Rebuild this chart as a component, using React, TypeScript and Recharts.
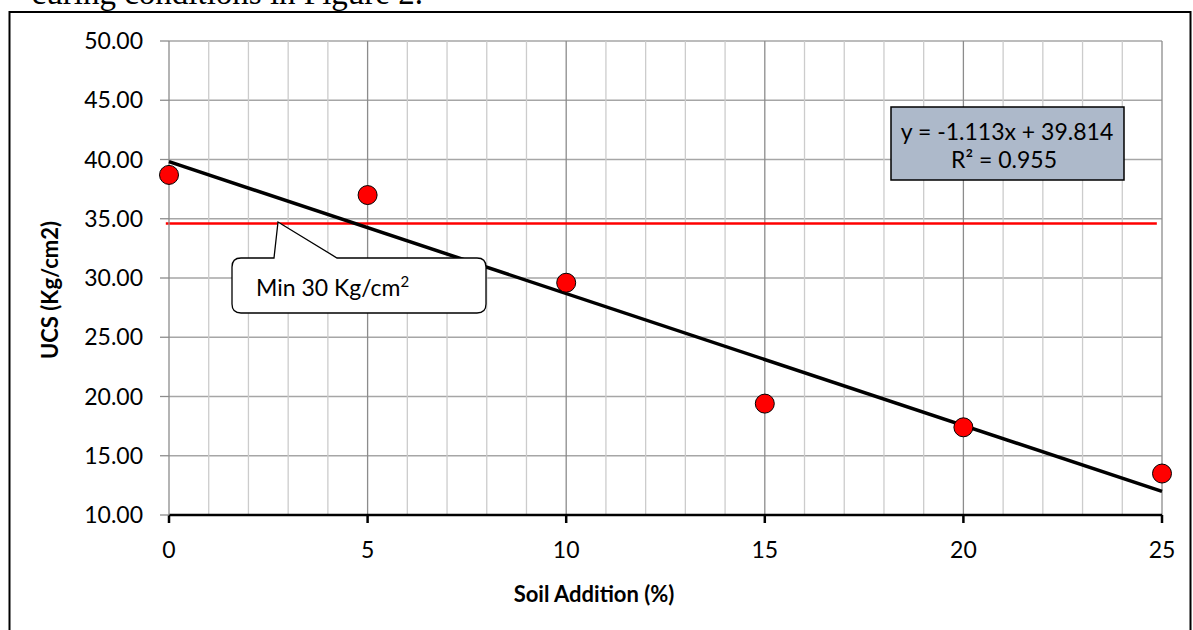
import React from 'react';
import { ComposedChart, Scatter, XAxis, YAxis, CartesianGrid, ReferenceLine } from 'recharts';

// ---- data ----
const soilAddition = [0, 5, 10, 15, 20, 25];
const ucs = [38.7, 37.0, 29.6, 19.4, 17.4, 13.5];
const xTicks = [0, 5, 10, 15, 20, 25];
const yTicks = [10, 15, 20, 25, 30, 35, 40, 45, 50];
const minorX = [1, 2, 3, 4, 6, 7, 8, 9, 11, 12, 13, 14, 16, 17, 18, 19, 21, 22, 23, 24];
const majorX = [5, 10, 15, 20, 25];
const trendX = [0, 25];
const trendY = [39.814, 11.99];
const minLineY = 34.6;
const minLineX = [-0.08, 24.87];
const equationText = 'y = -1.113x + 39.814';
const r2Text = 'R² = 0.955';
const calloutText = 'Min 30 Kg/cm';
const xTitle = 'Soil Addition (%)';
const yTitle = 'UCS (Kg/cm2)';
const captionText = 'curing conditions in Figure 2.';

const points = soilAddition.map((x, i) => ({ x, y: ucs[i] }));
const trendPoints = trendX.map((x, i) => ({ x, y: trendY[i] }));

const FONT = 'Lato, Carlito, Calibri, sans-serif';

const Dot = (props: any) => (
  <circle cx={props.cx} cy={props.cy} r={9.5} fill="#ff0000" stroke="#000" strokeWidth={1} />
);

export default function App() {
  return (
    <div style={{ position: 'absolute', left: 0, top: 0, width: 1193, height: 630, background: '#fff', overflow: 'hidden' }}>
      <ComposedChart
        width={1193}
        height={630}
        margin={{ top: 41, right: 31, bottom: 85, left: 89 }}
      >
        <CartesianGrid vertical={false} stroke="#a6a6a6" strokeWidth={1.3} />
        {minorX.map((v) => (
          <ReferenceLine key={'mi' + v} x={v} stroke="#cccccc" strokeWidth={1.3} />
        ))}
        {majorX.map((v) => (
          <ReferenceLine key={'ma' + v} x={v} stroke="#8c8c8c" strokeWidth={1.3} />
        ))}
        <XAxis
          type="number"
          dataKey="x"
          domain={[0, 25]}
          ticks={xTicks}
          height={30}
          tickSize={8}
          tickMargin={19}
          axisLine={{ stroke: '#000', strokeWidth: 2.5 }}
          tickLine={{ stroke: '#000', strokeWidth: 2.5 }}
          tick={{ fill: '#000', fontSize: 23, fontFamily: FONT }}
        />
        <YAxis
          type="number"
          dataKey="y"
          domain={[10, 50]}
          ticks={yTicks}
          width={80}
          tickSize={9}
          tickMargin={17}
          tickFormatter={(v: number) => v.toFixed(2)}
          axisLine={{ stroke: '#8c8c8c', strokeWidth: 1.3 }}
          tickLine={{ stroke: '#8c8c8c', strokeWidth: 1.3 }}
          tick={{ fill: '#000', fontSize: 23, fontFamily: FONT }}
        />
        <ReferenceLine
          segment={[{ x: minLineX[0], y: minLineY }, { x: minLineX[1], y: minLineY }]}
          stroke="#ff0000"
          strokeWidth={2.5}
          ifOverflow="visible"
        />
        <Scatter
          data={trendPoints}
          line={{ stroke: '#000', strokeWidth: 3.5 }}
          shape={() => <g />}
          isAnimationActive={false}
        />
        <Scatter data={points} shape={Dot} isAnimationActive={false} />
      </ComposedChart>
      <svg
        width={1193}
        height={630}
        style={{ position: 'absolute', left: 0, top: 0, pointerEvents: 'none' }}
      >
        <text x={423} y={4} textAnchor="end" fontFamily="Liberation Serif, DejaVu Serif, serif" fontSize={33} fill="#000">
          {captionText}
        </text>
        <rect x={9.5} y={12} width={1181} height={640} fill="none" stroke="#000" strokeWidth={2} />
        {/* callout */}
        <path
          d="M 241 258 L 274 258 L 278 222 L 337 258 L 477 258 Q 486 258 486 267 L 486 304 Q 486 313 477 313 L 241 313 Q 232 313 232 304 L 232 267 Q 232 258 241 258 Z"
          fill="#fff"
          stroke="#000"
          strokeWidth={1.3}
        />
        <text x={256} y={296} fontFamily={FONT} fontSize={23} fill="#000">
          {calloutText}
          <tspan fontSize={15} dy={-9}>2</tspan>
        </text>
        {/* equation box */}
        <rect x={891} y={107} width={233} height={73} fill="#adb9ca" stroke="#000" strokeWidth={1.5} />
        <text x={1007} y={140} textAnchor="middle" fontFamily={FONT} fontSize={23} fill="#000">
          {equationText}
        </text>
        <text x={1004} y={168} textAnchor="middle" fontFamily={FONT} fontSize={23} fill="#000">
          {r2Text}
        </text>
        {/* axis titles */}
        <text x={594} y={602} textAnchor="middle" fontFamily={FONT} fontWeight="bold" fontSize={22} fill="#000">
          {xTitle}
        </text>
        <text
          x={0}
          y={0}
          transform="translate(58 290) rotate(-90)"
          textAnchor="middle"
          fontFamily={FONT}
          fontWeight="bold"
          fontSize={22}
          fill="#000"
        >
          {yTitle}
        </text>
      </svg>
    </div>
  );
}
